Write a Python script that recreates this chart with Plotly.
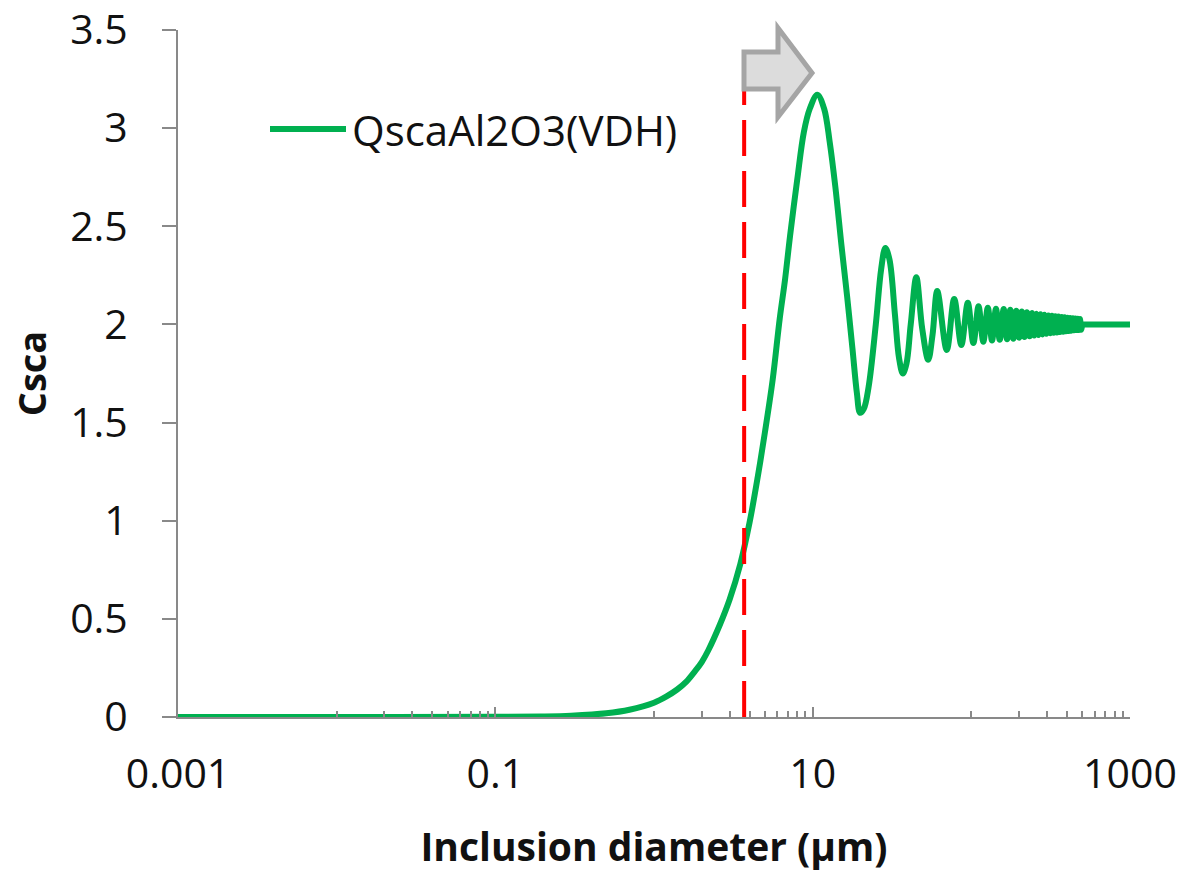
import plotly.graph_objects as go

# Scattering efficiency of Al2O3 inclusions (Van de Hulst approximation)
diameter_um = [
    0.001, 0.01, 0.1, 0.2, 0.3, 0.5, 0.7, 1.0, 1.2, 1.4, 1.6, 1.8, 2.0, 2.2,
    2.6, 3.0, 3.5,
    4.0, 4.5, 5.0, 5.6, 6.2, 6.7, 7.2, 8.0, 8.8, 9.6, 10.7, 11.8, 12.8, 13.9,
    15.2, 16.5, 17.8, 19.0, 19.9, 21.0, 22.5, 25.0, 27.0, 28.7, 30.5, 33.0,
    35.0, 37.0, 39.0, 41.5, 45.0, 49.0, 53.5, 57.0, 61.0, 70.0, 78.0, 86.5,
    95.0, 103.0, 111.0, 119.0, 127.0, 135.0, 143.0, 151.0, 160.0, 168.0,
    176.0, 184.0, 192.0, 200.0, 208.0, 216.0, 224.0, 233.0, 241.0, 249.0,
    257.0, 265.0, 273.0, 281.0, 289.0, 297.0, 306.0, 314.0, 322.0, 330.0,
    338.0, 346.0, 354.0, 362.0, 371.0, 379.0, 387.0, 395.0, 403.0, 411.0,
    419.0, 427.0, 436.0, 444.0, 452.0, 460.0, 468.0, 476.0, 484.0, 492.0,
    500.0, 1000.0,
]
csca = [
    0.0, 0.0, 0.001, 0.003, 0.007, 0.019, 0.037, 0.073, 0.105, 0.14, 0.18,
    0.23, 0.28, 0.34, 0.47,
    0.60, 0.78, 0.99, 1.22, 1.45, 1.72, 2.03, 2.23, 2.45, 2.74, 2.98, 3.10,
    3.17, 3.10, 2.93, 2.70, 2.40, 2.14, 1.88, 1.65, 1.55, 1.57, 1.68, 2.00,
    2.28, 2.39, 2.33, 2.05, 1.83, 1.75, 1.80, 2.00, 2.24, 1.98, 1.82, 1.95,
    2.17, 1.87, 2.13, 1.895, 2.11, 1.905, 2.092, 1.912, 2.085, 1.918, 2.080,
    1.922, 2.078, 1.924, 2.075, 1.927, 2.070, 1.932, 2.066, 1.936, 2.062,
    1.940, 2.058, 1.943, 2.055, 1.946, 2.052, 1.949, 2.049, 1.952, 2.046,
    1.955, 2.044, 1.957, 2.042, 1.959, 2.040, 1.961, 2.038, 1.963, 2.036,
    1.965, 2.034, 1.967, 2.033, 1.968, 2.031, 1.970, 2.030, 1.971, 2.029,
    1.972, 2.028, 1.973, 2.0, 2.0,
]

series_name = "QscaAl2O3(VDH)"
threshold_um = 3.7
threshold_span = [0.0, 3.2]

x_major = [0.001, 0.1, 10, 1000]
x_major_text = ["0.001", "0.1", "10", "1000"]
x_minor = ([k * 0.01 for k in range(1, 10)] + [k * 1.0 for k in range(1, 10)]
           + [k * 100.0 for k in range(1, 10)])
y_ticks = [0, 0.5, 1, 1.5, 2, 2.5, 3, 3.5]

GREEN = "#00b050"
AXIS = "#898989"
FONT = "Open Sans"
INK = "#111"

fig = go.Figure()
# smooth curve through the sampled points, straight tail to the last sample
fig.add_trace(go.Scatter(
    x=diameter_um[:-1], y=csca[:-1], mode="lines", name=series_name,
    line=dict(color=GREEN, width=6, shape="spline", smoothing=1.0),
    showlegend=False,
))
fig.add_trace(go.Scatter(
    x=diameter_um[-2:], y=csca[-2:], mode="lines", name=series_name,
    line=dict(color=GREEN, width=6), showlegend=False,
))
fig.add_trace(go.Scatter(
    x=[threshold_um, threshold_um], y=threshold_span, mode="lines",
    line=dict(color="#ff0000", width=4, dash="36px,15px"),
    showlegend=False,
))

# plot area in pixels, used for the hand-drawn legend and the arrow
L, T, W, H = 178, 30, 952, 687
def px(x):
    return (x - L) / W
def py(y):
    return (T + H - y) / H

# legend sample drawn by hand so the line sample can be long
fig.add_shape(type="line", xref="paper", yref="paper",
              x0=px(270), x1=px(346), y0=py(129), y1=py(129),
              line=dict(color=GREEN, width=6), layer="above")
fig.add_annotation(xref="paper", yref="paper", x=px(350), y=py(129),
                   text=series_name, showarrow=False, xanchor="left",
                   yanchor="middle", font=dict(family=FONT, size=42, color=INK))

# block arrow at the top of the threshold line
arrow = [(744, 52), (778, 52), (778, 28), (812, 73), (778, 117), (778, 89), (744, 89)]
path = "M" + " L".join(f"{px(a):.5f},{py(b):.5f}" for a, b in arrow) + " Z"
fig.add_shape(type="path", xref="paper", yref="paper", path=path,
              fillcolor="#dcdcdc", line=dict(color="#a5a5a5", width=5),
              layer="above")

fig.update_layout(
    width=1189, height=872,
    margin=dict(l=L, r=1189 - (L + W), t=T, b=872 - (T + H), pad=0),
    paper_bgcolor="white", plot_bgcolor="white",
    font=dict(family=FONT, color=INK),
)
fig.update_xaxes(
    type="log", range=[-3, 3], automargin=False,
    tickmode="array", tickvals=x_major, ticktext=x_major_text,
    ticks="inside", ticklen=10, tickwidth=2, tickcolor=AXIS,
    showline=True, linecolor=AXIS, linewidth=2,
    showgrid=False, zeroline=False,
    tickfont=dict(family=FONT, size=41, color=INK),
    ticklabelstandoff=20,
    minor=dict(tickmode="array", tickvals=x_minor, ticks="inside",
               ticklen=6, tickwidth=2, tickcolor=AXIS, showgrid=False),
    title=dict(text="<b>Inclusion diameter (µm)</b>", standoff=34,
               font=dict(family=FONT, size=39, color=INK)),
)
fig.update_yaxes(
    range=[0, 3.5], automargin=False, tickmode="array", tickvals=y_ticks,
    ticks="outside", ticklen=14, tickwidth=2, tickcolor=AXIS,
    showline=True, linecolor=AXIS, linewidth=2,
    showgrid=False, zeroline=False,
    tickfont=dict(family=FONT, size=41, color=INK),
    ticklabelstandoff=26,
    title=dict(text="<b>Csca</b>", standoff=12,
               font=dict(family=FONT, size=38, color=INK)),
)

fig.write_html("out.html")
